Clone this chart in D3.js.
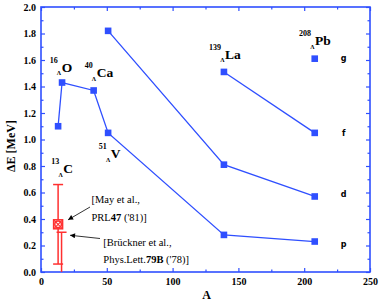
<!DOCTYPE html>
<html><head><meta charset="utf-8">
<script src="https://cdn.jsdelivr.net/npm/d3@7"></script>
<style>body{margin:0;background:#fff}svg{display:block}</style>
</head><body>
<script>
// ---- data ----
const xTicks = [0, 50, 100, 150, 200, 250];
const yTicks = [0.0, 0.2, 0.4, 0.6, 0.8, 1.0, 1.2, 1.4, 1.6, 1.8, 2.0];
const pA = [13, 16, 40, 51, 139, 208];
const pE = [1.10, 1.43, 1.37, 1.05, 0.28, 0.23];
const dA = [51, 139, 208];
const dE = [1.82, 0.81, 0.57];
const fA = [139, 208];
const fE = [1.51, 1.05];
const gA = [208];
const gE = [1.61];
const shellNames = ["g", "f", "d", "p"];
const shellE = [1.61, 1.05, 0.59, 0.21];
const expA = [13, 16];
const expCenter = [0.36, null];
const expLow = [0.06, -0.1];
const expHigh = [0.66, 0.30];
const nucMass = ["13", "16", "40", "51", "139", "208"];
const nucSym = ["C", "O", "Ca", "V", "La", "Pb"];
const nucA = [16.9, 15.7, 42.3, 53.0, 139.8, 208.2];
const nucE = [0.745, 1.51, 1.47, 0.86, 1.61, 1.713];

const W = 382, H = 302;
const m = {l: 41, t: 7, r: 370, b: 272};
const blue = "#2f4fff", red = "#ff3030";
const serif = "Liberation Serif, Times New Roman, serif";
const sans = "DejaVu Sans, sans-serif";

const svg = d3.select("body").append("svg").attr("width", W).attr("height", H);
const x = d3.scaleLinear().domain([0, 250]).range([m.l, m.r]);
const y = d3.scaleLinear().domain([0, 2]).range([m.b, m.t]);

const defs = svg.append("defs");
defs.append("clipPath").attr("id", "clip")
  .append("rect").attr("x", m.l).attr("y", m.t).attr("width", m.r - m.l).attr("height", m.b - m.t);
defs.append("marker").attr("id", "arr").attr("viewBox", "0 0 10 10").attr("refX", 10).attr("refY", 5)
  .attr("markerWidth", 7).attr("markerHeight", 5).attr("orient", "auto").attr("markerUnits", "userSpaceOnUse")
  .append("path").attr("d", "M0,0L10,5L0,10Z").attr("fill", "#000");

// ---- axes ----
function mkAxis(gen, tr, major, minor, labels, pad) {
  const gM = svg.append("g").attr("transform", tr)
    .call(gen.tickValues(major).tickSizeInner(-4).tickSizeOuter(0).tickPadding(pad)
      .tickFormat(labels ? labels : () => ""));
  gM.attr("font-family", serif);
  gM.select(".domain").remove();
  gM.selectAll("line").attr("stroke", blue).attr("stroke-width", 1.2);
  gM.selectAll("text").style("font-family", serif).attr("font-weight", "bold").attr("font-size", 10).attr("fill", "#000");
  const gm = svg.append("g").attr("transform", tr)
    .call(gen.tickValues(minor).tickSizeInner(-2.5).tickSizeOuter(0).tickFormat(() => ""));
  gm.select(".domain").remove();
  gm.selectAll("line").attr("stroke", blue).attr("stroke-width", 1.2);
  return gM;
}
const xMinor = d3.range(25, 250, 50);
const yMinor = d3.range(0.1, 2.0, 0.2);
mkAxis(d3.axisBottom(x), `translate(0,${m.b})`, xTicks, xMinor, d3.format("d"), 6);
mkAxis(d3.axisTop(x), `translate(0,${m.t})`, xTicks, xMinor, null, 0);
mkAxis(d3.axisLeft(y), `translate(${m.l},0)`, yTicks, yMinor, d3.format(".1f"), 5);
mkAxis(d3.axisRight(y), `translate(${m.r},0)`, yTicks, yMinor, null, 0);

svg.append("rect").attr("x", m.l).attr("y", m.t).attr("width", m.r - m.l).attr("height", m.b - m.t)
  .attr("fill", "none").attr("stroke", blue).attr("stroke-width", 1.6);

svg.append("text").attr("x", (m.l + m.r) / 2 + 1).attr("y", 299).attr("text-anchor", "middle")
  .style("font-family", serif).attr("font-weight", "bold").attr("font-size", 12).text("A");
svg.append("text").attr("transform", `translate(15,146) rotate(-90)`).attr("text-anchor", "middle")
  .style("font-family", serif).attr("font-weight", "bold").attr("font-size", 12).text("ΔE [MeV]");

// ---- series ----
const line = d3.line().x(d => x(d[0])).y(d => y(d[1]));
const series = [[pA, pE], [dA, dE], [fA, fE], [gA, gE]];
const plot = svg.append("g").attr("clip-path", "url(#clip)");
series.forEach(([as, es]) => {
  const pts = as.map((a, i) => [a, es[i]]);
  if (pts.length > 1)
    plot.append("path").attr("d", line(pts)).attr("fill", "none").attr("stroke", blue).attr("stroke-width", 1.3);
  plot.selectAll(null).data(pts).enter().append("rect")
    .attr("x", d => x(d[0]) - 3.3).attr("y", d => y(d[1]) - 3.3).attr("width", 6.6).attr("height", 6.6)
    .attr("fill", blue);
});

// shell labels
svg.selectAll(null).data(shellNames).enter().append("text")
  .attr("x", x(230)).attr("y", (d, i) => y(shellE[i])).attr("dy", "0.35em").attr("text-anchor", "middle")
  .style("font-family", sans).attr("font-weight", "bold").attr("font-size", 8).text(d => d);

// ---- experimental points ----
expA.forEach((a, i) => {
  const g = plot.append("g").attr("stroke", red).attr("stroke-width", 1.5).attr("fill", "none");
  const cx = x(a) + (i === 1 ? -0.5 : 0);
  g.append("line").attr("x1", cx).attr("x2", cx).attr("y1", y(expHigh[i])).attr("y2", y(expLow[i]));
  [expHigh[i], expLow[i]].forEach(v => {
    if (v >= 0) g.append("line").attr("x1", cx - 5).attr("x2", cx + 5).attr("y1", y(v)).attr("y2", y(v));
  });
  if (expCenter[i] !== null) {
    const cy = y(expCenter[i]);
    g.append("rect").attr("x", cx - 4.5).attr("y", cy - 4.5).attr("width", 9).attr("height", 9).attr("fill", "#fff");
    g.append("circle").attr("cx", cx).attr("cy", cy).attr("r", 3.3);
    g.append("path").attr("d", `M${cx-4.5},${cy-4.5}L${cx+4.5},${cy+4.5}M${cx+4.5},${cy-4.5}L${cx-4.5},${cy+4.5}`).attr("stroke-width", 1.1);
  }
});

// annotations
const ann = svg.append("g").style("font-family", serif).attr("font-size", 10.5);
function rich(xp, yp, parts) {
  const t = ann.append("text").attr("x", xp).attr("y", yp);
  parts.forEach(([s, b]) => t.append("tspan").attr("font-weight", b ? "bold" : "normal").text(s));
}
rich(91.5, 203, [["[May et al.,", 0]]);
rich(91.5, 221, [["PRL", 0], ["47", 1], [" ('81)]", 0]]);
rich(103.3, 246, [["[Brückner et al.,", 0]]);
rich(103.3, 263, [["Phys.Lett.", 0], ["79B", 1], [" ('78)]", 0]]);
svg.append("line").attr("x1", 90).attr("y1", 207).attr("x2", x(13) + 10).attr("y2", y(0.36) - 4.5)
  .attr("stroke", "#000").attr("stroke-width", 0.8).attr("marker-end", "url(#arr)");
svg.append("line").attr("x1", 100).attr("y1", 238.5).attr("x2", x(16) + 8).attr("y2", y(0.30) + 3)
  .attr("stroke", "#000").attr("stroke-width", 0.8).attr("marker-end", "url(#arr)");

// nucleus labels
nucSym.forEach((s, i) => {
  const X = x(nucA[i]), B = y(nucE[i]);
  const g = svg.append("g").style("font-family", serif).attr("font-weight", "bold");
  g.append("text").attr("x", X).attr("y", B).attr("font-size", 13.5).text(s);
  g.append("text").attr("x", X - 0.5).attr("y", B + 3.5).attr("font-size", 6).attr("text-anchor", "end").text("Λ");
  g.append("text").attr("x", X - 4).attr("y", B - 9).attr("font-size", 8).attr("text-anchor", "end").text(nucMass[i]);
});
</script>
</body></html>
